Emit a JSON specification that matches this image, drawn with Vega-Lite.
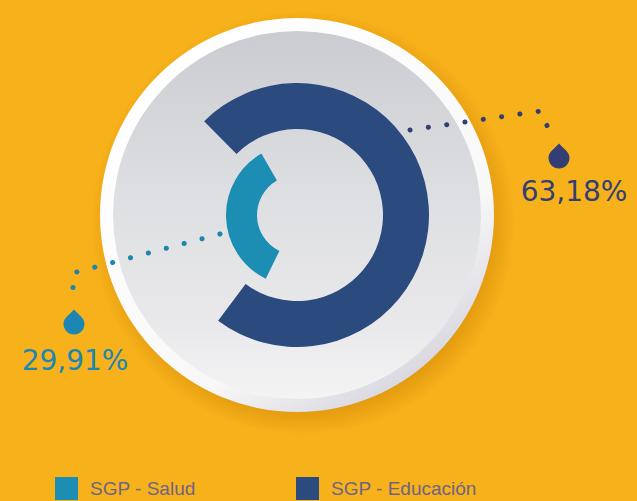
{
  "$schema": "https://vega.github.io/schema/vega-lite/v6.json",
  "width": 594,
  "height": 430,
  "autosize": {"type": "none"},
  "padding": {"left": 0, "top": 0, "right": 43, "bottom": 71},
  "background": "#F7B11A",
  "config": {"view": {"stroke": null}},
  "datasets": {
    "partidas": [
      {"serie": "SGP - Educación", "valor": 63.18},
      {"serie": "SGP - Salud", "valor": 29.91}
    ],
    "guias": [
      {"serie": "SGP - Educación", "orden": 1, "x": 113, "y": 85},
      {"serie": "SGP - Educación", "orden": 2, "x": 244, "y": 104},
      {"serie": "SGP - Educación", "orden": 3, "x": 251, "y": 87},
      {"serie": "SGP - Salud", "orden": 1, "x": -77, "y": -19},
      {"serie": "SGP - Salud", "orden": 2, "x": -224, "y": -58},
      {"serie": "SGP - Salud", "orden": 3, "x": -224, "y": -78}
    ],
    "rotulos": [
      {"serie": "SGP - Educación", "px": 262, "py": 59, "tx": 277, "ty": 22},
      {"serie": "SGP - Salud", "px": -223, "py": -107, "tx": -222, "ty": -147}
    ]
  },
  "layer": [
    {
      "data": {"values": [{"pieza": "sombra"}]},
      "mark": {
        "type": "arc",
        "theta": 0,
        "theta2": 6.2832,
        "radius": 212,
        "radius2": 0,
        "color": {
          "gradient": "radial",
          "x1": 0.5, "y1": 0.5, "r1": 0,
          "x2": 0.5, "y2": 0.5, "r2": 0.5,
          "stops": [
            {"offset": 0, "color": "rgba(196,120,0,0.5)"},
            {"offset": 0.88, "color": "rgba(196,120,0,0.4)"},
            {"offset": 1, "color": "rgba(196,120,0,0)"}
          ]
        }
      },
      "encoding": {
        "x": {"datum": 6, "type": "quantitative", "scale": {"domain": [-297, 297], "nice": false, "zero": false}, "axis": null},
        "y": {"datum": -8, "type": "quantitative", "scale": {"domain": [-215, 215], "nice": false, "zero": false}, "axis": null}
      }
    },
    {
      "data": {"values": [{"pieza": "borde"}]},
      "mark": {
        "type": "arc",
        "theta": 0,
        "theta2": 6.2832,
        "radius": 197,
        "radius2": 0,
        "color": {
          "gradient": "linear",
          "x1": 0.2, "y1": 0.1, "x2": 0.8, "y2": 0.95,
          "stops": [
            {"offset": 0, "color": "#ffffff"},
            {"offset": 0.7, "color": "#f8f8f9"},
            {"offset": 1, "color": "#d6d4dc"}
          ]
        }
      },
      "encoding": {
        "x": {"datum": 0, "type": "quantitative", "scale": {"domain": [-297, 297], "nice": false, "zero": false}, "axis": null},
        "y": {"datum": 0, "type": "quantitative", "scale": {"domain": [-215, 215], "nice": false, "zero": false}, "axis": null}
      }
    },
    {
      "data": {"values": [{"pieza": "cara"}]},
      "mark": {
        "type": "arc",
        "theta": 0,
        "theta2": 6.2832,
        "radius": 184,
        "radius2": 0,
        "color": {
          "gradient": "linear",
          "x1": 0.5, "y1": 0, "x2": 0.5, "y2": 1,
          "stops": [
            {"offset": 0, "color": "#cbccd1"},
            {"offset": 0.45, "color": "#dedfe2"},
            {"offset": 0.8, "color": "#e9e9eb"},
            {"offset": 1, "color": "#f4f4f5"}
          ]
        }
      },
      "encoding": {
        "x": {"datum": 0, "type": "quantitative", "scale": {"domain": [-297, 297], "nice": false, "zero": false}, "axis": null},
        "y": {"datum": 0, "type": "quantitative", "scale": {"domain": [-215, 215], "nice": false, "zero": false}, "axis": null}
      }
    },
    {
      "data": {"name": "partidas"},
      "transform": [
        {"filter": "datum.serie === 'SGP - Educación'"},
        {"calculate": "-datum.valor / 2", "as": "ini"},
        {"calculate": "datum.valor / 2", "as": "fin"}
      ],
      "mark": {"type": "arc", "radius": 132, "radius2": 86},
      "encoding": {
        "theta": {"field": "ini", "type": "quantitative", "stack": null, "scale": {"domain": [-43.5, 43.5], "range": [-1.6406, 4.6426]}},
        "theta2": {"field": "fin"},
        "color": {
          "field": "serie",
          "type": "nominal",
          "scale": {"domain": ["SGP - Salud", "SGP - Educación"], "range": ["#1c8db3", "#2b4a7e"]},
          "legend": {
            "title": null,
            "orient": "none",
            "legendX": 55,
            "legendY": 477,
            "direction": "horizontal",
            "symbolType": "square",
            "symbolSize": 529,
            "symbolStrokeWidth": 0,
            "symbolOpacity": 1,
            "labelFont": "Liberation Sans",
            "labelFontSize": 19,
            "labelColor": "#6e6486",
            "labelOffset": 12,
            "columnPadding": 100,
            "padding": 0
          }
        }
      }
    },
    {
      "data": {"name": "partidas"},
      "transform": [
        {"filter": "datum.serie === 'SGP - Salud'"},
        {"calculate": "-datum.valor / 2", "as": "ini"},
        {"calculate": "datum.valor / 2", "as": "fin"}
      ],
      "mark": {"type": "arc", "radius": 71, "radius2": 40},
      "encoding": {
        "theta": {"field": "ini", "type": "quantitative", "stack": null, "scale": {"domain": [-43.5, 43.5], "range": [1.5359, 7.8191]}},
        "theta2": {"field": "fin"},
        "color": {
          "field": "serie",
          "type": "nominal",
          "scale": {"domain": ["SGP - Salud", "SGP - Educación"], "range": ["#1c8db3", "#2b4a7e"]}
        }
      }
    },
    {
      "data": {"name": "guias"},
      "mark": {"type": "line", "strokeWidth": 5, "strokeCap": "round", "strokeDash": [0.1, 18.4]},
      "encoding": {
        "x": {"field": "x", "type": "quantitative", "scale": {"domain": [-297, 297], "nice": false, "zero": false}, "axis": null},
        "y": {"field": "y", "type": "quantitative", "scale": {"domain": [-215, 215], "nice": false, "zero": false}, "axis": null},
        "order": {"field": "orden"},
        "detail": {"field": "serie"},
        "stroke": {
          "field": "serie",
          "type": "nominal",
          "legend": null,
          "scale": {"domain": ["SGP - Salud", "SGP - Educación"], "range": ["#1d86ad", "#323f70"]}
        }
      }
    },
    {
      "data": {"name": "partidas"},
      "transform": [
        {"lookup": "serie", "from": {"data": {"name": "rotulos"}, "key": "serie", "fields": ["px", "py"]}}
      ],
      "mark": {
        "type": "point",
        "filled": true,
        "opacity": 1,
        "size": 441,
        "shape": "M0,-1.2 C0.4,-0.7 1,-0.45 1,0.2 A1,1 0 1 1 -1,0.2 C-1,-0.45 -0.4,-0.7 0,-1.2 Z"
      },
      "encoding": {
        "x": {"field": "px", "type": "quantitative", "scale": {"domain": [-297, 297], "nice": false, "zero": false}, "axis": null},
        "y": {"field": "py", "type": "quantitative", "scale": {"domain": [-215, 215], "nice": false, "zero": false}, "axis": null},
        "fill": {
          "field": "serie",
          "type": "nominal",
          "legend": null,
          "scale": {"domain": ["SGP - Salud", "SGP - Educación"], "range": ["#1e86b2", "#333f74"]}
        }
      }
    },
    {
      "data": {"name": "partidas"},
      "transform": [
        {"lookup": "serie", "from": {"data": {"name": "rotulos"}, "key": "serie", "fields": ["tx", "ty"]}},
        {"calculate": "replace(format(datum.valor, '.2f'), '.', ',') + '%'", "as": "rotulo"}
      ],
      "mark": {"type": "text", "font": "DejaVu Sans", "fontSize": 28, "align": "center", "baseline": "middle"},
      "encoding": {
        "x": {"field": "tx", "type": "quantitative", "scale": {"domain": [-297, 297], "nice": false, "zero": false}, "axis": null},
        "y": {"field": "ty", "type": "quantitative", "scale": {"domain": [-215, 215], "nice": false, "zero": false}, "axis": null},
        "text": {"field": "rotulo"},
        "fill": {
          "field": "serie",
          "type": "nominal",
          "legend": null,
          "scale": {"domain": ["SGP - Salud", "SGP - Educación"], "range": ["#1e86b2", "#333f74"]}
        }
      }
    }
  ],
  "resolve": {"scale": {"theta": "independent"}}
}
